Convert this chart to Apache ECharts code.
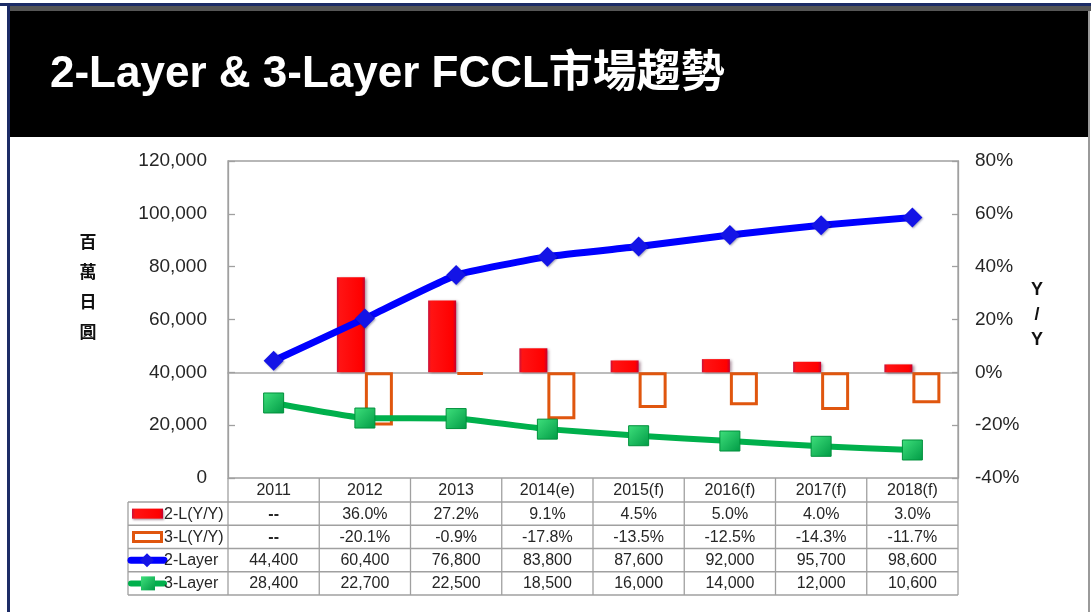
<!DOCTYPE html>
<html>
<head>
<meta charset="utf-8">
<script src="https://cdn.jsdelivr.net/npm/echarts@6/dist/echarts.min.js"></script>
<style>
html,body{margin:0;padding:0;background:#fff;}
#c{width:1091px;height:612px;}
</style>
</head>
<body>
<div id="c"></div>
<script>
// ---- data ----
const years = ['2011', '2012', '2013', '2014(e)', '2015(f)', '2016(f)', '2017(f)', '2018(f)'];
const yoy2L = [null, 36.0, 27.2, 9.1, 4.5, 5.0, 4.0, 3.0];
const yoy3L = [null, -20.1, -0.9, -17.8, -13.5, -12.5, -14.3, -11.7];
const layer2 = [44400, 60400, 76800, 83800, 87600, 92000, 95700, 98600];
const layer3 = [28400, 22700, 22500, 18500, 16000, 14000, 12000, 10600];
const leftAxisRange = [0, 120000, 20000];
const rightAxisRange = [-40, 80, 20];
const seriesNames = ['2-L(Y/Y)', '3-L(Y/Y)', '2-Layer', '3-Layer'];
const titleText = '2-Layer & 3-Layer FCCL市場趨勢';
const leftAxisName = ['百', '萬', '日', '圓'];
const rightAxisName = ['Y', '/', 'Y'];

// ---- layout ----
const W = 1091, H = 612;
const L = 228, R = 958, T = 161, B = 478;
const TL = 128;
const rowY = [478, 502, 525.25, 548.5, 571.75, 595];
const catW = (R - L) / years.length;
const FONT = '"Liberation Sans", Arial, "Noto Sans CJK TC", sans-serif';
const lineCol = '#a0a0a0';
const txtCol = '#262626';

const fmtPct = v => v == null ? '--' : v.toFixed(1) + '%';
const fmtNum = v => v.toLocaleString('en-US');

const redFill = new echarts.graphic.LinearGradient(0, 0, 1, 0, [
  {offset: 0, color: '#c8103c'}, {offset: 0.1, color: '#ff1414'},
  {offset: 0.88, color: '#ff0000'}, {offset: 1, color: '#c40030'}
]);
const greenFill = new echarts.graphic.LinearGradient(0, 0, 1, 1, [
  {offset: 0, color: '#3fe07c'}, {offset: 1, color: '#009a45'}
]);

const g = [];
// frame & header
g.push({type: 'rect', shape: {x: 0, y: 3, width: W, height: 3}, style: {fill: '#1c2c66'}, silent: true});
g.push({type: 'rect', shape: {x: 7, y: 3, width: 3, height: H - 3}, style: {fill: '#1c2c66'}, silent: true});
g.push({type: 'rect', shape: {x: 10, y: 6, width: W - 10, height: 5}, style: {fill: '#555555'}, silent: true});
g.push({type: 'rect', shape: {x: 10, y: 11, width: 1078, height: 126}, style: {fill: '#000000'}, silent: true});
g.push({type: 'rect', shape: {x: 1088, y: 11, width: 2, height: H - 11}, style: {fill: '#9a9a9a'}, silent: true});
g.push({type: 'text', x: 50, y: 75, style: {text: titleText, fill: '#ffffff', font: 'bold 44px ' + FONT, verticalAlign: 'middle', align: 'left'}, silent: true});

// axis names
leftAxisName.forEach((ch, i) => g.push({type: 'text', x: 88, y: 242 + i * 30,
  style: {text: ch, fill: '#111', font: 'bold 17px "Noto Sans CJK TC", sans-serif', align: 'center', verticalAlign: 'middle'}}));
rightAxisName.forEach((ch, i) => g.push({type: 'text', x: 1037, y: 290 + i * 25,
  style: {text: ch, fill: '#111', font: 'bold 18px ' + FONT, align: 'center', verticalAlign: 'middle'}}));

// table grid lines
const ln = (x1, y1, x2, y2) => g.push({type: 'line', shape: {x1, y1, x2, y2}, style: {stroke: lineCol, lineWidth: 1.3}, silent: true});
for (let r = 1; r < rowY.length; r++) ln(TL, rowY[r], R, rowY[r]);
ln(TL, rowY[1], TL, rowY[5]);
for (let k = 0; k <= years.length; k++) ln(L + k * catW, B, L + k * catW, rowY[5]);

// table texts
const rows = [
  years,
  yoy2L.map(fmtPct),
  yoy3L.map(fmtPct),
  layer2.map(fmtNum),
  layer3.map(fmtNum)
];
rows.forEach((arr, r) => {
  const cy = (rowY[r] + rowY[r + 1]) / 2 + 0.5;
  arr.forEach((t, i) => g.push({type: 'text', x: L + catW * (i + 0.5), y: cy,
    style: {text: t, fill: txtCol, font: (t === '--' ? 'bold ' : '') + '16px ' + FONT, align: 'center', verticalAlign: 'middle'}}));
});

// legend keys in table
const ly = r => (rowY[r] + rowY[r + 1]) / 2;
g.push({type: 'rect', shape: {x: 132, y: ly(1) - 5, width: 31, height: 10},
  style: {fill: redFill, shadowColor: 'rgba(60,0,30,0.4)', shadowOffsetX: 1, shadowOffsetY: 1, shadowBlur: 2}});
g.push({type: 'rect', shape: {x: 133.5, y: ly(2) - 4.5, width: 28, height: 9},
  style: {fill: '#fff', stroke: '#e0560e', lineWidth: 3}});
g.push({type: 'line', shape: {x1: 131, y1: ly(3), x2: 164, y2: ly(3)}, style: {stroke: '#0000ff', lineWidth: 7, lineCap: 'round'}});
g.push({type: 'polygon', shape: {points: [[147, ly(3) - 7], [154, ly(3)], [147, ly(3) + 7], [140, ly(3)]]}, style: {fill: '#1414e6'}});
g.push({type: 'line', shape: {x1: 131, y1: ly(4), x2: 164, y2: ly(4)}, style: {stroke: '#00b04c', lineWidth: 6, lineCap: 'round'}});
g.push({type: 'rect', shape: {x: 141, y: ly(4) - 7, width: 14, height: 14}, style: {fill: greenFill}});
seriesNames.forEach((n, i) => g.push({type: 'text', x: 164, y: ly(i + 1) + 0.5,
  style: {text: n, fill: txtCol, font: '16px ' + FONT, align: 'left', verticalAlign: 'middle'}}));

const chart = echarts.init(document.getElementById('c'), null, {renderer: 'canvas'});
chart.setOption({
  animation: false,
  backgroundColor: '#ffffff',
  textStyle: {fontFamily: FONT},
  grid: {left: L, right: W - R, top: T, bottom: H - B, show: true, borderColor: lineCol, borderWidth: 1.3, backgroundColor: 'transparent', z: 1},
  xAxis: [{
    type: 'category', data: years, boundaryGap: true,
    axisLine: {show: true, onZero: true, onZeroAxisIndex: 1, lineStyle: {color: '#a6a6a6', width: 1.5}},
    axisTick: {show: false}, axisLabel: {show: false}, splitLine: {show: false}
  }],
  yAxis: [{
    type: 'value', position: 'left', min: leftAxisRange[0], max: leftAxisRange[1], interval: leftAxisRange[2],
    axisLine: {show: true, lineStyle: {color: lineCol, width: 1.3}},
    axisTick: {show: true, inside: true, length: 7, lineStyle: {color: lineCol, width: 1.3}},
    axisLabel: {margin: 21, fontSize: 19, color: txtCol, fontFamily: FONT, formatter: v => v.toLocaleString('en-US')},
    splitLine: {show: false}
  }, {
    type: 'value', position: 'right', min: rightAxisRange[0], max: rightAxisRange[1], interval: rightAxisRange[2],
    axisLine: {show: true, lineStyle: {color: lineCol, width: 1.3}},
    axisTick: {show: true, inside: true, length: 6, lineStyle: {color: lineCol, width: 1.3}},
    axisLabel: {margin: 17, fontSize: 19, color: txtCol, fontFamily: FONT, formatter: '{value}%'},
    splitLine: {show: false}
  }],
  series: [{
    name: seriesNames[0], type: 'bar', yAxisIndex: 1, data: yoy2L, barWidth: 28, barGap: '0%', z: 2,
    itemStyle: {color: redFill, shadowColor: 'rgba(60,0,30,0.45)', shadowOffsetX: 2, shadowOffsetY: 1, shadowBlur: 3}
  }, {
    name: seriesNames[1], type: 'bar', yAxisIndex: 1, data: yoy3L, barWidth: 28, barGap: '0%', z: 2,
    itemStyle: {color: '#ffffff', borderColor: '#e0560e', borderWidth: 3}
  }, {
    name: seriesNames[2], type: 'line', yAxisIndex: 0, data: layer2, smooth: 0.12, z: 5,
    symbol: 'diamond', symbolSize: 20, showAllSymbol: true,
    lineStyle: {color: '#0000ff', width: 7},
    itemStyle: {color: '#1414e6', shadowColor: 'rgba(0,0,60,0.35)', shadowBlur: 2, shadowOffsetX: 1, shadowOffsetY: 1}
  }, {
    name: seriesNames[3], type: 'line', yAxisIndex: 0, data: layer3, smooth: 0.12, z: 5,
    symbol: 'rect', symbolSize: 20, showAllSymbol: true,
    lineStyle: {color: '#00b04c', width: 6},
    itemStyle: {color: greenFill, borderColor: '#00903c', borderWidth: 1}
  }],
  graphic: {elements: g}
});
</script>
</body>
</html>
